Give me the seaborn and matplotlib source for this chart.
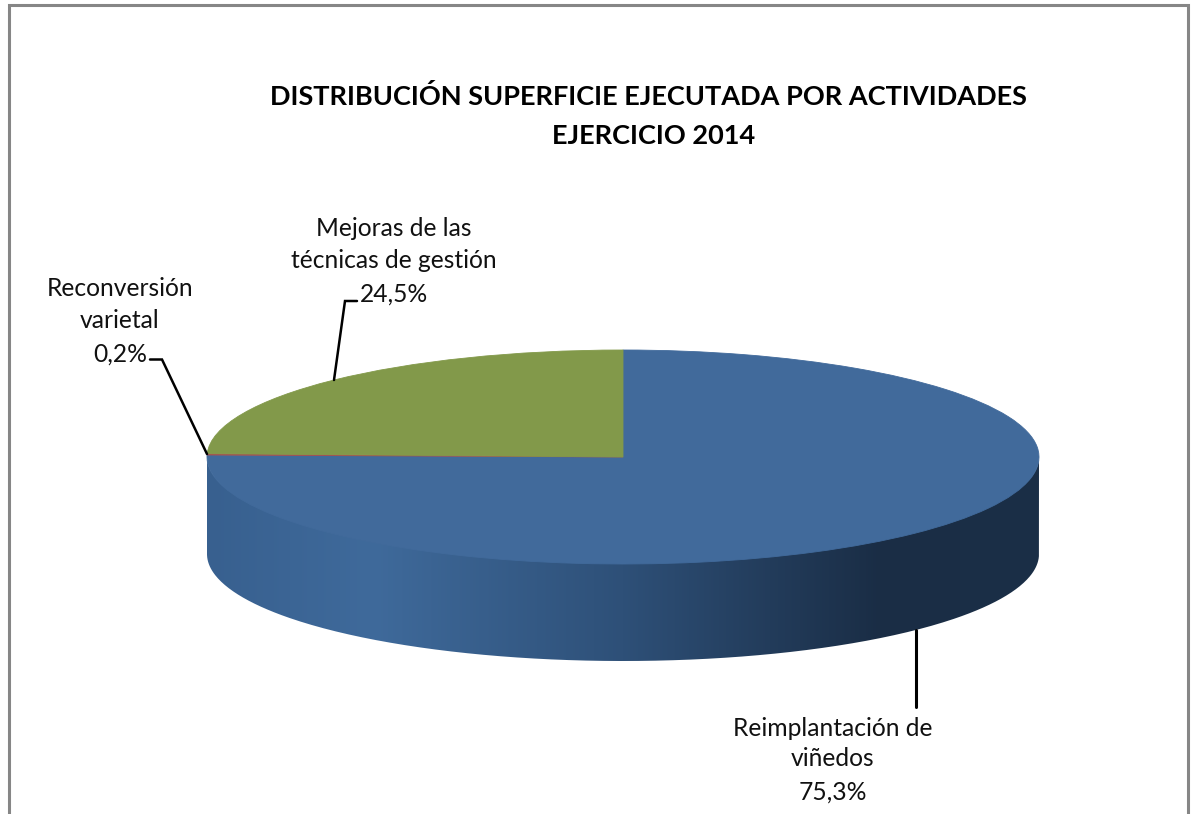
import numpy as np
import seaborn as sns
import matplotlib
matplotlib.use("Agg")
import matplotlib.pyplot as plt
from matplotlib.colors import LinearSegmentedColormap
from matplotlib.patches import PathPatch
from matplotlib.path import Path

categories = ["Reimplantación de\nviñedos", "Reconversión\nvarietal", "Mejoras de las\ntécnicas de gestión"]
values = [75.3, 0.2, 24.5]
title_lines = ["DISTRIBUCIÓN SUPERFICIE EJECUTADA POR ACTIVIDADES", "EJERCICIO 2014"]
colors = ["#416a9b", "#a5514f", "#82994a"]

sns.set_theme(style="white")
plt.rcParams["font.family"] = ["Lato", "DejaVu Sans"]

W, H = 1194, 814
fig = plt.figure(figsize=(W / 100, H / 100), dpi=100, facecolor="white")

# pie geometry in pixels
cx, cy, rx, ry, depth = 623, 457, 416, 107, 97

ax = fig.add_axes([0, 0, 1, 1])
wedges, _ = ax.pie(values, colors=colors, startangle=90, counterclock=False, radius=1,
                   wedgeprops=dict(linewidth=0, zorder=3))
for wedge in wedges:
    wedge.set_edgecolor(wedge.get_facecolor())
    wedge.set_linewidth(0.6)
ax.set_aspect("auto")

# side wall of the disc, with horizontal shading
d = depth / ry
t = np.linspace(np.pi, 2 * np.pi, 300)
top = np.column_stack([np.cos(t), 0.97 * np.sin(t)])
bot = np.column_stack([np.cos(t[::-1]), np.sin(t[::-1]) - d])
poly = np.vstack([top, bot, top[:1]])
side_clip = PathPatch(Path(poly), transform=ax.transData, fc="none", ec="none")
ax.add_patch(side_clip)
shade = LinearSegmentedColormap.from_list("side", [
    (0.00, "#38608f"), (0.20, "#3f6a9b"), (0.50, "#2e5078"),
    (0.81, "#1a2d45"), (1.00, "#1b2f47")], N=1024)
im = ax.imshow(np.linspace(0, 1, 1024)[None, :], cmap=shade, aspect="auto",
               extent=(-1, 1, -1 - d, 0), zorder=2, interpolation="bilinear")
im.set_clip_path(side_clip)
ax.set_xlim((0 - cx) / rx, (W - cx) / rx)
ax.set_ylim((cy - H) / ry, (cy - 0) / ry)
ax.set_axis_off()

# pixel overlay for frame, text and leaders
ov = fig.add_axes([0, 0, 1, 1], facecolor="none")
ov.set_xlim(0, W)
ov.set_ylim(H, 0)
ov.set_axis_off()

ov.plot([8.5, 8.5, 1187.5, 1187.5], [H, 4.5, 4.5, H], color="#868686", lw=2.2, solid_joinstyle="miter")

ov.text(648.5, 96.5, title_lines[0], ha="center", va="center", fontsize=19.5, fontweight="bold", color="black")
ov.text(654, 135.5, title_lines[1], ha="center", va="center", fontsize=19.5, fontweight="bold", color="black")

def pct(v):
    return f"{v:.1f}".replace(".", ",") + "%"

label_pos = [(833, [728, 759, 792]), (120, [289, 321, 354]), (394, [228, 261, 294])]
for cat, v, (x, ys) in zip(categories, values, label_pos):
    for line, y in zip(cat.split("\n") + [pct(v)], ys):
        ov.text(x, y, line, ha="center", va="center", fontsize=17.7, color="#111111")

ov.plot([150, 162, 207], [359.5, 359.5, 454], color="black", lw=1.8, solid_joinstyle="miter")
ov.plot([357, 345, 334], [301, 301, 380], color="black", lw=1.8, solid_joinstyle="miter")
ov.plot([915.5, 915.5], [630, 707], color="black", lw=2.2)

fig.savefig("out.png", dpi=100, facecolor="white")
